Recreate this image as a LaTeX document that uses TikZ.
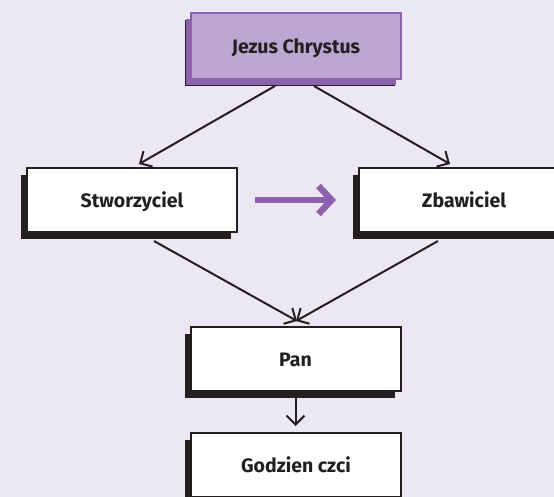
\documentclass[tikz,border=0pt]{standalone}
\usepackage{fontspec}
\setmainfont{Fira Sans}
\usetikzlibrary{arrows.meta,shadows,calc}
\definecolor{bg}{HTML}{ECE8F3}
\definecolor{pfill}{HTML}{BCA6D2}
\definecolor{pdark}{HTML}{8D62AD}
\definecolor{ink}{HTML}{231F20}
\tikzset{
  box/.style={draw=ink, fill=white, line width=2pt, minimum width=210pt, minimum height=64pt,
    inner sep=0pt, text=ink, font=\fontsize{19.5}{22}\selectfont\bfseries,
    text height=15.5pt, text depth=0pt,
    drop shadow={shadow xshift=-6pt, shadow yshift=-7pt, opacity=1, fill=ink}},
  pbox/.style={box, draw=pdark, fill=pfill, minimum height=66pt,
    drop shadow={shadow xshift=-5pt, shadow yshift=-6pt, opacity=1, fill=pdark}},
  conn/.style={draw=ink, line width=2pt, -{Straight Barb[length=9pt,width=18pt]}},
  parrow/.style={draw=pdark, line width=6.5pt, -{Straight Barb[length=13pt,width=28pt,sharp]}}
}
\begin{document}
\begin{tikzpicture}[x=1pt,y=-1pt]
\useasboundingbox (0,0) rectangle (554,497);
\fill[bg] (0,0) rectangle (554,497);
\clip (0,0) rectangle (554,497);
\node[pbox] (J) at (296,46) {Jezus Chrystus};
\node[box] (S) at (132,200) {Stworzyciel};
\node[box] (Z) at (464,200) {Zbawiciel};
\node[box] (P) at (295.5,359) {Pan};
\node[box] (G) at (296,465) {Godzien czci};
\draw[conn] ([xshift=-21pt,yshift=-6pt]J.south) -- ([xshift=7pt,yshift=3pt]S.north);
\draw[conn] ([xshift=18pt,yshift=-6pt]J.south) -- ([xshift=-14pt,yshift=3pt]Z.north);
\draw[conn] ([xshift=22pt,yshift=-8pt]S.south) -- ([xshift=1.5pt,yshift=5pt]P.north);
\draw[conn] ([xshift=-26pt,yshift=-8pt]Z.south) -- ([xshift=0.5pt,yshift=5pt]P.north);
\draw[conn] ([yshift=-6pt]P.south) -- ([yshift=6pt,xshift=-0.5pt]G.north);
\draw[parrow] ([xshift=17pt]S.east) -- ([xshift=-22pt]Z.west);
\end{tikzpicture}
\end{document}
